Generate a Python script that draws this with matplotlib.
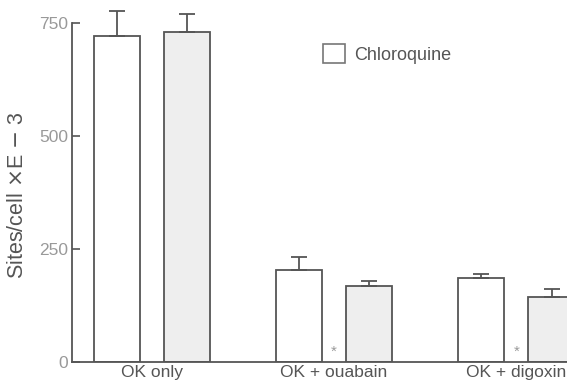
import matplotlib.pyplot as plt
from matplotlib.patches import Patch

plt.rcParams['font.family'] = ['Liberation Sans', 'DejaVu Sans']

groups = ['OK only', 'OK + ouabain', 'OK + digoxin']
control = [720, 203, 186]
control_err = [55, 29, 9]
chloroquine = [728, 168, 143]
chloroquine_err = [41, 10, 17]
significant = [False, True, True]

W, H = 567, 385
fig = plt.figure(figsize=(W / 100, H / 100), dpi=100)
ax = fig.add_axes([72 / W, 23.3 / H, 1 - 72 / W, (361.7 - 22.5) / H])

edge = '#555555'
width = 0.253
off = 0.193
x = range(len(groups))
xl = [i - off for i in x]
xr = [i + off for i in x]

ax.bar(xl, control, width, color='white', edgecolor=edge, linewidth=1.3,
       yerr=[[0] * 3, control_err], capsize=5.5,
       error_kw=dict(ecolor=edge, elinewidth=1.3, capthick=1.3, clip_on=False))
ax.bar(xr, chloroquine, width, color='#eeeeee', edgecolor=edge, linewidth=1.3,
       yerr=[[0] * 3, chloroquine_err], capsize=5.5,
       error_kw=dict(ecolor=edge, elinewidth=1.3, capthick=1.3, clip_on=False))

for i, s in enumerate(significant):
    if s:
        ax.text(i, 22, '*', color='#999999', fontsize=11, ha='center', va='center')

ax.set_xlim(-0.438, 2.278)
ax.set_ylim(0, 750)
ax.set_yticks([0, 250, 500, 750])
ax.tick_params(axis='y', direction='in', length=6, width=1.2, color=edge,
               labelcolor='#999999', labelsize=12.5, pad=3)
ax.set_xticks(list(x))
ax.set_xticklabels(groups)
ax.tick_params(axis='x', length=0, labelcolor='#555555', labelsize=12.5, pad=2.5)
for sp in ['top', 'right']:
    ax.spines[sp].set_visible(False)
for sp in ['left', 'bottom']:
    ax.spines[sp].set_color(edge)
    ax.spines[sp].set_linewidth(1.3)

ax.set_ylabel('Sites/cell $\\times$E $-$ 3', fontsize=15.5, color='#555555')
ax.yaxis.set_label_coords(-44 / (W - 72), 0.49)

handle = Patch(facecolor='white', edgecolor='#777777', linewidth=1.2)
fig.legend([handle], ['Chloroquine'], loc='upper left', bbox_to_anchor=(0.569, 0.885),
           frameon=False, fontsize=13, handlelength=1.25, handleheight=1.25,
           borderpad=0, borderaxespad=0, handletextpad=0.5, labelcolor='#555555')

fig.savefig('out.png', dpi=100)
